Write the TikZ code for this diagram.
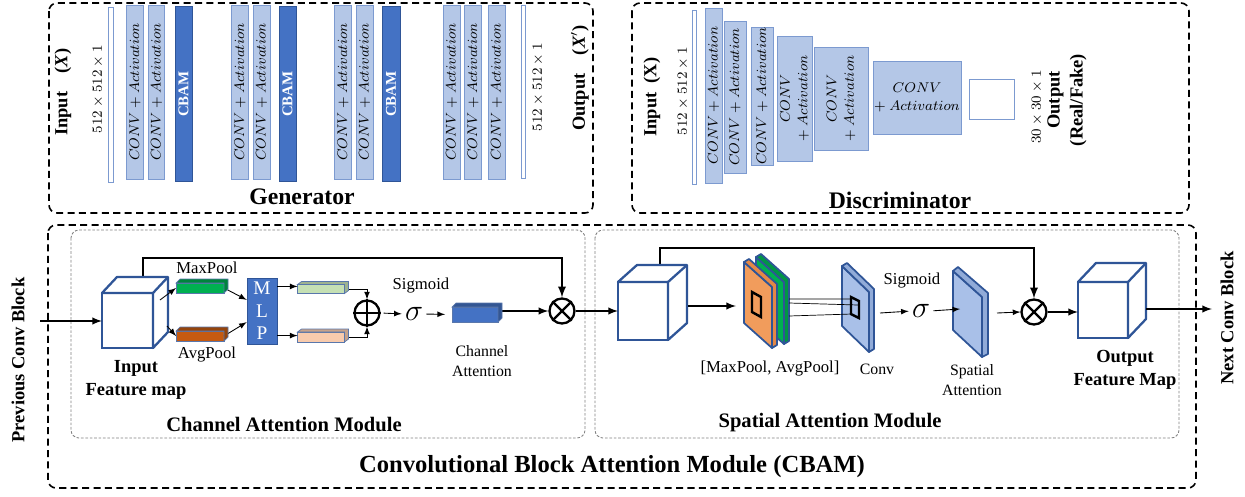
\documentclass[tikz,border=0pt]{standalone}
\usepackage{fontspec}
\setmainfont{Liberation Serif}
\usepackage{tikz}
\usetikzlibrary{positioning, arrows, shapes}
\definecolor{convfill}{HTML}{B4C7E7}
\definecolor{convline}{HTML}{7C9AD0}
\definecolor{cbamfill}{HTML}{4472C4}
\definecolor{darkline}{HTML}{2F5597}
\definecolor{poolgreen}{HTML}{00B050}
\definecolor{poolorange}{HTML}{C55A11}
\definecolor{mlpgreen}{HTML}{C5E0B4}
\definecolor{mlppeach}{HTML}{F8CBAD}
\definecolor{plateorange}{HTML}{F19C5C}
\definecolor{plateblue}{HTML}{A9C0E8}
\tikzset{
    convbar/.style={draw=convline, fill=convfill, rotate=90, inner sep=0pt, align=center, font=\fontsize{8}{10}\selectfont},
    convbox/.style={draw=convline, fill=convfill, inner sep=0pt, align=center, font=\fontsize{8}{10}\selectfont},
    cbambar/.style={draw=darkline, fill=cbamfill, rotate=90, inner sep=0pt, text=white, font=\bfseries\fontsize{8.5}{10}\selectfont},
    thinbar/.style={draw=convline, fill=white, inner sep=0pt},
    dimtext/.style={rotate=90, font=\fontsize{8}{10}\selectfont},
    iolabel/.style={rotate=90, align=center, font=\bfseries\fontsize{10.5}{13}\selectfont},
    boxtitle/.style={font=\bfseries\fontsize{13.5}{16}\selectfont},
    bigtitle/.style={font=\bfseries\fontsize{14}{16}\selectfont},
    modtitle/.style={font=\bfseries\fontsize{11.7}{14}\selectfont},
    midtext/.style={align=center, font=\bfseries\fontsize{10.5}{13}\selectfont},
    poollabel/.style={font=\fontsize{9.5}{11}\selectfont},
    smalltext/.style={align=center, font=\fontsize{9}{11}\selectfont},
    outerbox/.style={draw, line width=0.9pt, dash pattern=on 4pt off 2.5pt, rounded corners=1.6mm},
    innerbox/.style={draw=gray, line width=0.5pt, dash pattern=on 1.5pt off 1pt, rounded corners=1.6mm},
    cubefront/.style={draw=darkline, line width=1.3pt, fill=white, inner sep=0pt, outer sep=0pt},
    cubeline/.style={draw=darkline, line width=1.3pt, fill=white, line join=round},
    flatbar/.style={draw=darkline!80, line width=0.4pt, inner sep=0pt, outer sep=0pt},
    plateline/.style={draw=darkline, line width=1pt, line join=round},
    mlpbox/.style={draw=darkline, fill=cbamfill, text=white, align=center, inner sep=0pt, font=\fontsize{11}{12.8}\selectfont},
    opnode/.style={circle, draw, line width=1.3pt, minimum size=5mm, inner sep=0pt},
    sig/.style={inner sep=0pt, font=\fontsize{19}{20}\selectfont},
    conn/.style={black, line width=1.1pt},
    thinarr/.style={-latex, line width=0.5pt},
    thickarr/.style={-latex, line width=0.9pt},
}
\begin{document}
\begin{tikzpicture}[x=0.2mm, y=-0.2mm]
\useasboundingbox (0,0) rectangle (1245,497);

% frames
\draw[outerbox] (49,3) rectangle (593,213);
\draw[outerbox] (632,3) rectangle (1189,213);
\draw[outerbox] (48,225) rectangle (1196,488);
\draw[innerbox] (71,230) rectangle (585,438);
\draw[innerbox] (595,230) rectangle (1179,438);

% generator
\node[iolabel] (gintxt) at (63,92) {Input\quad(\textit{X})};
\node[dimtext] (gindim) at (98,89) {$512\times512\times1$};
\node[thinbar, minimum width=1mm, minimum height=35mm] (gin) at (110.5,94.5) {};
\node[convbar, minimum width=34.8mm, minimum height=3.3mm] (g1) at (135,92) {$CONV+Activation$};
\node[convbar, minimum width=34.8mm, minimum height=3.3mm] (g2) at (156.5,92) {$CONV+Activation$};
\node[cbambar, minimum width=35mm, minimum height=3.4mm] (gcb1) at (183.5,94) {CBAM};
\node[convbar, minimum width=34.8mm, minimum height=3.5mm] (g3) at (240,92) {$CONV+Activation$};
\node[convbar, minimum width=34.8mm, minimum height=3.4mm] (g4) at (261.5,92) {$CONV+Activation$};
\node[cbambar, minimum width=35mm, minimum height=3.4mm] (gcb2) at (287.5,94) {CBAM};
\node[convbar, minimum width=34.8mm, minimum height=3.5mm] (g5) at (343,92) {$CONV+Activation$};
\node[convbar, minimum width=34.8mm, minimum height=3.4mm] (g6) at (364.5,92) {$CONV+Activation$};
\node[cbambar, minimum width=35mm, minimum height=3.6mm] (gcb3) at (391,94) {CBAM};
\node[convbar, minimum width=34.8mm, minimum height=3.4mm] (g7) at (451.5,92) {$CONV+Activation$};
\node[convbar, minimum width=34.8mm, minimum height=3.5mm] (g8) at (473,92) {$CONV+Activation$};
\node[convbar, minimum width=34.8mm, minimum height=3.4mm] (g9) at (496.5,92) {$CONV+Activation$};
\node[thinbar, minimum width=0.8mm, minimum height=34.6mm] (gout) at (523,91.5) {};
\node[dimtext] (goutdim) at (538,87) {$512\times512\times1$};
\node[iolabel] (gouttxt) at (580,78) {Output\quad(\textit{X}$'$)};
\node[boxtitle] (gtitle) at (302,197) {Generator};

% discriminator
\node[iolabel] (dintxt) at (652,97) {Input\enspace(X)};
\node[dimtext] (dindim) at (683,91) {$512\times512\times1$};
\node[thinbar, minimum width=0.8mm, minimum height=34.8mm] (din) at (694,97) {};
\node[convbar, minimum width=35mm, minimum height=3.4mm] (d1) at (713.5,95.5) {$CONV+Activation$};
\node[convbar, minimum width=30.4mm, minimum height=4.4mm] (d2) at (735,97) {$CONV+Activation$};
\node[convbar, minimum width=27.6mm, minimum height=4.4mm] (d3) at (762,96) {$CONV+Activation$};
\node[convbar, minimum width=25mm, minimum height=7mm] (d4) at (794.5,98.5) {$CONV$\\$+$ $Activation$};
\node[convbar, minimum width=20.6mm, minimum height=10.8mm] (d5) at (841,98.5) {$CONV$\\$+$ $Activation$};
\node[convbox, minimum width=17.6mm, minimum height=14.6mm] (d6) at (917,97.5) {$CONV$\\$+$ $Activation$};
\node[thinbar, minimum width=9mm, minimum height=8mm] (dout) at (991.5,99) {};
\node[dimtext] (doutdim) at (1037,107) {$30\times30\times1$};
\node[iolabel] (douttxt) at (1067,100) {Output\\(Real/Fake)};
\node[boxtitle] (dtitle) at (900,200) {Discriminator};

% channel attention
\node[iolabel] (prev) at (18,360) {Previous Conv Block};
\coordinate (prevend) at (40,321);
\node[cubefront, minimum width=10.2mm, minimum height=11mm] (incube) at (127.5,320.5) {};
\node[midtext] (inlbl) at (136,380) {Input\\Feature map};
\node[flatbar, fill=poolgreen, minimum width=9.6mm, minimum height=2mm] (mp) at (200,288) {};
\node[flatbar, fill=poolorange, minimum width=9.6mm, minimum height=2mm] (ap) at (200,336) {};
\node[poollabel] (mplbl) at (207,268) {MaxPool};
\node[poollabel] (aplbl) at (207,355) {AvgPool};
\node[mlpbox, minimum width=6mm, minimum height=13.2mm] (mlp) at (262,311) {M\\L\\P};
\node[flatbar, fill=mlpgreen, minimum width=9.4mm, minimum height=1.8mm] (lg) at (321,289) {};
\node[flatbar, fill=mlppeach, minimum width=9.4mm, minimum height=2mm] (pc) at (321,337) {};
\node[opnode] (cadd) at (367,313) {};
\node[sig] (sig1) at (414,314) {$\sigma$};
\node[poollabel] (sigtxt1) at (421,286) {Sigmoid};
\node[flatbar, fill=cbamfill, minimum width=9.2mm, minimum height=3mm] (ca) at (475,314.5) {};
\node[smalltext] (calbl) at (482,361) {Channel\\Attention};
\node[opnode] (cmul) at (562,311) {};
\node[modtitle] (cammod) at (284,424) {Channel Attention Module};
\coordinate (inskip) at (143,277);
\coordinate (inskipturn) at (143,258);
\coordinate (inr1) at (160,300);
\coordinate (inr2) at (167,326);

\draw[conn, -latex] (inskip) -- (inskipturn) -| (cmul.north);
\draw[thickarr] (prevend) -- (prevend -| incube.west);
\filldraw[cubeline] (incube.north west) -- ++(15,-16) -- ++(51,0) -- ++(0,55) -- (incube.south east) -- (incube.north east) -- cycle;
\draw[cubeline] (incube.north east) -- ++(15,-16);
\draw[thinarr] (inr1) -- (mp.west);
\draw[thinarr] (inr2) -- (ap.west);
\draw[thinarr] (mp.east) -- (mlp.144);
\draw[thinarr] (ap.east) -- (mlp.216);
\draw[thinarr] (mlp.58) -- (mlp.58 -| lg.west);
\draw[thinarr] (mlp.-58) -- (mlp.-58 -| pc.west);
\draw[thinarr] (lg.east) -| (cadd.north);
\draw[thinarr] (pc.east) -| (cadd.south);
\draw[line width=1.3pt] (cadd.north) -- (cadd.south) (cadd.east) -- (cadd.west);
\draw[thinarr, shorten <=0.6mm, shorten >=0.6mm] (cadd.east) -- (sig1.west);
\draw[thinarr, shorten <=0.6mm, shorten >=1.4mm] (sig1.east) -- (ca.west);
\draw[thickarr] (cmul.west -| ca.east) -- (cmul.west);
\draw[line width=1.3pt] (cmul.45) -- (cmul.225) (cmul.135) -- (cmul.-45);
\filldraw[flatbar, fill=poolgreen!75!black] (mp.north west) -- ++(4,-4) -- ++(48,0) -- ++(0,10) -- (mp.south east) -- (mp.north east) -- cycle;
\filldraw[flatbar, fill=poolorange!75!black] (ap.north west) -- ++(4,-4) -- ++(48,0) -- ++(0,10) -- (ap.south east) -- (ap.north east) -- cycle;
\filldraw[flatbar, fill=mlpgreen!80!black] (lg.north west) -- ++(4,-3) -- ++(47,0) -- ++(0,9) -- (lg.south east) -- (lg.north east) -- cycle;
\filldraw[flatbar, fill=mlppeach!80!black] (pc.north west) -- ++(4,-3) -- ++(47,0) -- ++(0,10) -- (pc.south east) -- (pc.north east) -- cycle;
\filldraw[flatbar, fill=cbamfill!75!black] (ca.north west) -- ++(4,-4) -- ++(46,0) -- ++(0,15) -- (ca.south east) -- (ca.north east) -- cycle;

% spatial attention
\node[cubefront, minimum width=10mm, minimum height=11.6mm] (scube) at (643,311) {};
\node[poollabel] (pllbl) at (770,369) {[MaxPool, AvgPool]};
\node[smalltext] (cvlbl) at (877,369) {Conv};
\node[sig] (sig2) at (921,311) {$\sigma$};
\node[poollabel] (sigtxt2) at (912,281) {Sigmoid};
\node[smalltext] (salbl) at (972,380) {Spatial\\Attention};
\node[opnode] (cmul2) at (1034,312) {};
\node[cubefront, minimum width=10mm, minimum height=11.2mm] (ocube) at (1103,310) {};
\node[midtext] (outlbl) at (1125,370) {Output\\Feature Map};
\node[iolabel] (next) at (1227,318) {Next Conv Block};
\node[modtitle] (samod) at (830,423) {Spatial Attention Module};
\node[bigtitle] (cbamtitle) at (612,467) {Convolutional Block Attention Module (CBAM)};
\coordinate (sskip) at (660,265);
\coordinate (sskipturn) at (660,248);
\coordinate (sr) at (688,306);
\coordinate (plin) at (736,306);
\coordinate (pl1) at (789,299);
\coordinate (pl2) at (789,303);
\coordinate (pl3) at (789,316);
\coordinate (cv1) at (852,299);
\coordinate (cv2) at (858,305);
\coordinate (cv3) at (852,314);
\coordinate (convout) at (880,313);
\coordinate (sain) at (960,309);
\coordinate (saout) at (997,313);
\coordinate (ocr) at (1146,309);
\coordinate (nextend) at (1212,309);

\draw[thickarr] (cmul.east) -- (cmul.east -| scube.west);
\draw[conn, -latex] (sskip) -- (sskipturn) -| (cmul2.north);
\filldraw[cubeline] (scube.north west) -- ++(19,-17) -- ++(50,0) -- ++(0,58) -- (scube.south east) -- (scube.north east) -- cycle;
\draw[cubeline] (scube.north east) -- ++(19,-17);
\draw[thickarr] (sr) -- (plin);
\filldraw[plateline, fill=poolgreen] (756,257) -- (784,282) -- (784,344) -- (756,319) -- cycle;
\filldraw[plateline, fill=poolgreen!85!black] (756,257) -- (761,254) -- (789,279) -- (789,341) -- (784,344) -- (784,282) -- cycle;
\filldraw[plateline, fill=plateorange] (744,262) -- (772,287) -- (772,348) -- (744,323) -- cycle;
\filldraw[plateline, fill=plateorange!70!poolorange] (744,262) -- (749,259) -- (777,284) -- (777,345) -- (772,348) -- (772,287) -- cycle;
\draw[line width=1.4pt] (752,292) -- (761,297) -- (761,317) -- (752,312) -- cycle;
\filldraw[plateline, fill=plateblue] (842,266) -- (869,292) -- (869,352) -- (842,326) -- cycle;
\filldraw[plateline, fill=plateblue!80!darkline] (842,266) -- (847,263) -- (874,289) -- (874,349) -- (869,352) -- (869,292) -- cycle;
\draw[line width=1.4pt] (851,297) -- (859,301) -- (859,318) -- (851,314) -- cycle;
\draw[line width=0.4pt] (pl1) -- (cv1) (pl2) -- (cv2) (pl3) -- (cv3);
\draw[thinarr, shorten >=0.6mm] (convout) -- (sig2.west);
\filldraw[plateline, fill=plateblue] (953,271) -- (982,297) -- (982,357) -- (953,330) -- cycle;
\filldraw[plateline, fill=plateblue!80!darkline] (953,271) -- (958,267) -- (988,293) -- (988,354) -- (982,357) -- (982,297) -- cycle;
\draw[thinarr, shorten <=0.6mm] (sig2.east) -- (sain);
\draw[thinarr] (saout) -- (cmul2.west);
\draw[line width=1.3pt] (cmul2.45) -- (cmul2.225) (cmul2.135) -- (cmul2.-45);
\draw[thickarr] (cmul2.east) -- (cmul2.east -| ocube.west);
\filldraw[cubeline] (ocube.north west) -- ++(18,-19) -- ++(50,0) -- ++(0,56) -- (ocube.south east) -- (ocube.north east) -- cycle;
\draw[cubeline] (ocube.north east) -- ++(18,-19);
\draw[thickarr] (ocr) -- (nextend);
\end{tikzpicture}
\end{document}
